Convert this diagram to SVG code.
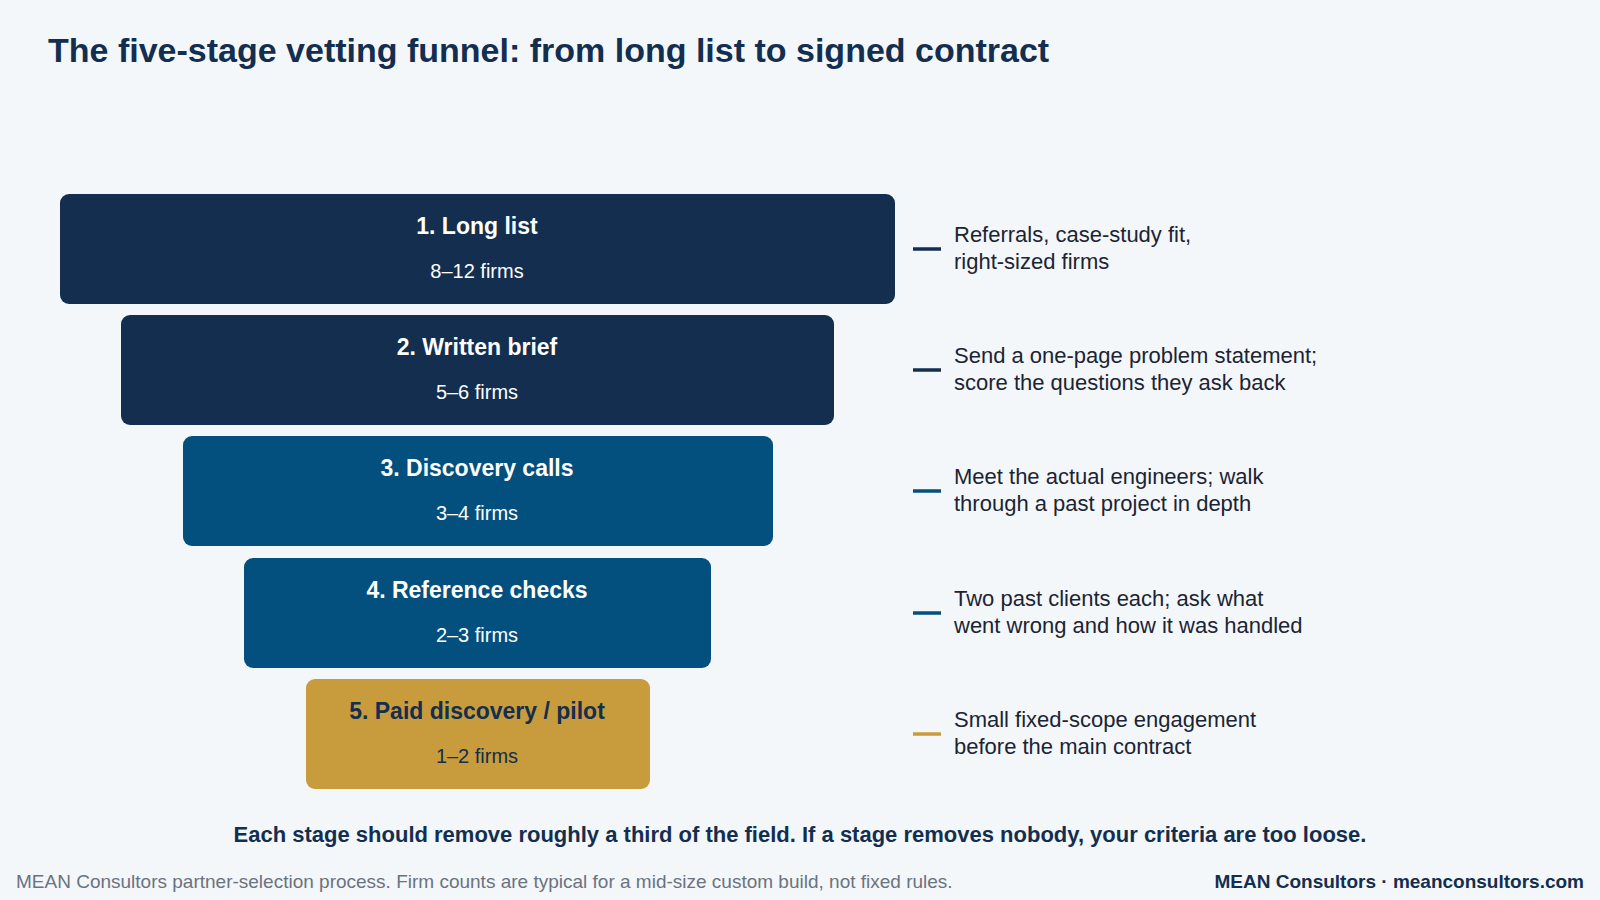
<svg xmlns="http://www.w3.org/2000/svg" width="1600" height="900" viewBox="0 0 1600 900">
<style>
text{font-family:"Liberation Sans",Arial,sans-serif}
.t{font-size:23px;font-weight:bold;text-anchor:middle;fill:#fff}
.s{font-size:20px;text-anchor:middle;fill:#fff}
.d{font-size:22px;fill:#1c2433}
.navy{fill:#132e4f}.blue{fill:#03507e}.gold{fill:#c89b3c}
</style>
<rect width="1600" height="900" fill="#f3f7fa"/>
<text x="48" y="62" font-size="34" font-weight="bold" fill="#132e4f">The five-stage vetting funnel: from long list to signed contract</text>
<g id="stage1"><rect class="navy" x="60" y="194" width="835" height="110" rx="9"/><text class="t" x="477" y="234">1. Long list</text><text class="s" x="477" y="278">8–12 firms</text></g>
<g id="stage2"><rect class="navy" x="121" y="315" width="713" height="110" rx="9"/><text class="t" x="477" y="355">2. Written brief</text><text class="s" x="477" y="399">5–6 firms</text></g>
<g id="stage3"><rect class="blue" x="183" y="436" width="590" height="110" rx="9"/><text class="t" x="477" y="476">3. Discovery calls</text><text class="s" x="477" y="520">3–4 firms</text></g>
<g id="stage4"><rect class="blue" x="244" y="558" width="467" height="110" rx="9"/><text class="t" x="477" y="598">4. Reference checks</text><text class="s" x="477" y="642">2–3 firms</text></g>
<g id="stage5"><rect class="gold" x="306" y="679" width="344" height="110" rx="9"/><text class="t" x="477" y="719" fill="#132e4f" style="fill:#132e4f">5. Paid discovery / pilot</text><text class="s" x="477" y="763" style="fill:#132e4f">1–2 firms</text></g>
<g id="connectors" stroke-width="3.5">
<line x1="913" y1="249" x2="941" y2="249" stroke="#132e4f"/>
<line x1="913" y1="370" x2="941" y2="370" stroke="#132e4f"/>
<line x1="913" y1="491" x2="941" y2="491" stroke="#03507e"/>
<line x1="913" y1="613" x2="941" y2="613" stroke="#03507e"/>
<line x1="913" y1="734" x2="941" y2="734" stroke="#c89b3c"/>
</g>
<g id="notes">
<text class="d" x="954" y="242">Referrals, case-study fit,</text><text class="d" x="954" y="269">right-sized firms</text>
<text class="d" x="954" y="363">Send a one-page problem statement;</text><text class="d" x="954" y="390">score the questions they ask back</text>
<text class="d" x="954" y="484">Meet the actual engineers; walk</text><text class="d" x="954" y="511">through a past project in depth</text>
<text class="d" x="954" y="606">Two past clients each; ask what</text><text class="d" x="954" y="633">went wrong and how it was handled</text>
<text class="d" x="954" y="727">Small fixed-scope engagement</text><text class="d" x="954" y="754">before the main contract</text>
</g>
<text x="800" y="842" font-size="22" font-weight="bold" fill="#132e4f" text-anchor="middle">Each stage should remove roughly a third of the field. If a stage removes nobody, your criteria are too loose.</text>
<text x="16" y="888" font-size="19" fill="#6b7280">MEAN Consultors partner-selection process. Firm counts are typical for a mid-size custom build, not fixed rules.</text>
<text x="1584" y="888" font-size="19" font-weight="bold" fill="#132e4f" text-anchor="end">MEAN Consultors · meanconsultors.com</text>
</svg>
